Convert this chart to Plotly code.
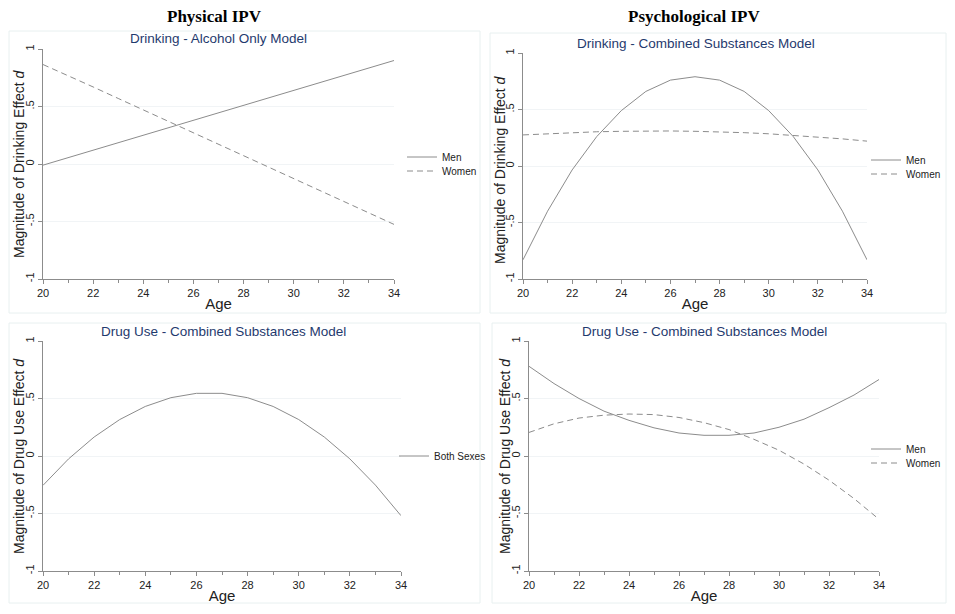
import plotly.graph_objects as go

ages = list(range(20, 35))

# Physical IPV - Drinking - Alcohol Only Model
phys_drink_men = [-0.01, 0.055, 0.12, 0.18, 0.25, 0.31, 0.38, 0.44, 0.51, 0.57, 0.64, 0.70, 0.77, 0.83, 0.90]
phys_drink_women = [0.865, 0.77, 0.67, 0.57, 0.47, 0.37, 0.27, 0.17, 0.07, -0.03, -0.13, -0.23, -0.33, -0.43, -0.525]

# Psychological IPV - Drinking - Combined Substances Model
psy_drink_men = [-0.83, -0.40, -0.035, 0.26, 0.49, 0.66, 0.76, 0.79, 0.76, 0.66, 0.49, 0.26, -0.035, -0.40, -0.83]
psy_drink_women = [0.275, 0.285, 0.295, 0.303, 0.307, 0.31, 0.31, 0.307, 0.302, 0.295, 0.285, 0.272, 0.258, 0.24, 0.22]

# Physical IPV - Drug Use - Combined Substances Model
phys_drug_both = [-0.255, -0.025, 0.165, 0.317, 0.431, 0.507, 0.545, 0.545, 0.507, 0.431, 0.317, 0.165, -0.025, -0.253, -0.519]

# Psychological IPV - Drug Use - Combined Substances Model
psy_drug_men = [0.78, 0.63, 0.50, 0.39, 0.31, 0.245, 0.20, 0.18, 0.18, 0.20, 0.25, 0.32, 0.42, 0.53, 0.665]
psy_drug_women = [0.205, 0.28, 0.33, 0.355, 0.365, 0.36, 0.335, 0.29, 0.23, 0.145, 0.05, -0.07, -0.21, -0.37, -0.55]

y_tickvals = [-1, -0.5, 0, 0.5, 1]
y_ticktext = ["-1", "-.5", "0", ".5", "1"]
x_tickvals = [20, 22, 24, 26, 28, 30, 32, 34]
x_ticktext = ["20", "22", "24", "26", "28", "30", "32", "34"]

# The page body keeps its default 8px margin; the figure fills the rest exactly.
PAGE_W, PAGE_H, BODY_M = 955, 614, 8
W, H = PAGE_W - 2 * BODY_M, PAGE_H - 2 * BODY_M

def px(x):
    return (x - BODY_M) / W
def py(y):
    return 1 - (y - BODY_M) / H

LINE = "#8c8c8c"
FONT = "Liberation Sans, Arial, sans-serif"
TITLE_BLUE = "#1f3a6e"

fig = go.Figure()

panels = [
    dict(ax="", dx=(43, 394), dy=(49, 279),
         series=[("Men", phys_drink_men, "solid", 157), ("Women", phys_drink_women, "dash", 171)],
         ytitle="Magnitude of Drinking Effect <i>d</i>", ytitle_xy=(19, 164),
         title="Drinking - Alcohol Only Model", title_xy=(218, 39), legx=402),
    dict(ax="2", dx=(523, 867), dy=(53, 279),
         series=[("Men", psy_drink_men, "solid", 160), ("Women", psy_drink_women, "dash", 174)],
         ytitle="Magnitude of Drinking Effect <i>d</i>", ytitle_xy=(500, 170),
         title="Drinking - Combined Substances Model", title_xy=(696, 44), legx=866),
    dict(ax="3", dx=(43, 401), dy=(341, 571),
         series=[("Both Sexes", phys_drug_both, "solid", 456)],
         ytitle="Magnitude of Drug Use Effect <i>d</i>", ytitle_xy=(19, 456),
         title="Drug Use - Combined Substances Model", title_xy=(223, 331), legx=394),
    dict(ax="4", dx=(529, 879), dy=(341, 571),
         series=[("Men", psy_drug_men, "solid", 449), ("Women", psy_drug_women, "dash", 463)],
         ytitle="Magnitude of Drug Use Effect <i>d</i>", ytitle_xy=(505, 456),
         title="Drug Use - Combined Substances Model", title_xy=(704, 331), legx=866),
]

layout = dict(
    width=W, height=H, margin=dict(l=0, r=0, t=0, b=0),
    paper_bgcolor="white", plot_bgcolor="white", showlegend=True,
    font=dict(family=FONT, color="#222222", size=11),
    annotations=[], shapes=[],
)

# panel boxes
for (x0, y0, x1, y1) in [(9, 31, 480, 313), (490, 33, 946, 313), (9, 323, 480, 603), (492, 323, 946, 603)]:
    layout["shapes"].append(dict(type="rect", xref="paper", yref="paper",
                                 x0=px(x0), x1=px(x1), y0=py(y1), y1=py(y0),
                                 line=dict(color="#e8f0f0", width=1), fillcolor="rgba(0,0,0,0)", layer="below"))

leg_i = 0
for p in panels:
    ax = p["ax"]
    for name, vals, dash, ly in p["series"]:
        leg_i += 1
        leg_id = "legend" if leg_i == 1 else "legend%d" % leg_i
        fig.add_trace(go.Scatter(x=ages, y=vals, mode="lines", name=name, showlegend=True,
                                 line=dict(color=LINE, width=1, dash=("6px,4px" if dash == "dash" else "solid")),
                                 xaxis="x" + ax, yaxis="y" + ax, legend=leg_id))
        layout[leg_id] = dict(
            x=px(p["legx"]), y=py(ly), xanchor="left", yanchor="middle",
            bgcolor="rgba(0,0,0,0)", font=dict(size=10, family=FONT, color="#222222"),
            itemwidth=30, tracegroupgap=0, visible=True,
        )
    layout["xaxis" + ax] = dict(
        domain=[px(p["dx"][0]), px(p["dx"][1])], anchor="y" + ax, range=[20, 34],
        tickmode="array", tickvals=x_tickvals, ticktext=x_ticktext,
        ticks="outside", ticklen=4, tickcolor=LINE, tickwidth=1,
        minor=dict(tickvals=[21, 23, 25, 27, 29, 31, 33], ticks="outside", ticklen=3, tickcolor=LINE),
        showline=True, linecolor=LINE, linewidth=1, showgrid=False, zeroline=False,
        tickfont=dict(size=11, family=FONT, color="#222222"),
        title=dict(text="Age", font=dict(size=15, family=FONT, color="#222222"), standoff=0),
        automargin=False, fixedrange=True,
    )
    layout["yaxis" + ax] = dict(
        domain=[py(p["dy"][1]), py(p["dy"][0])], anchor="x" + ax, range=[-1, 1],
        tickmode="array", tickvals=y_tickvals, ticktext=y_ticktext, tickangle=-90,
        ticks="outside", ticklen=4, tickcolor=LINE, tickwidth=1,
        showline=True, linecolor=LINE, linewidth=1,
        showgrid=True, gridcolor="#f1f4f6", gridwidth=1, zeroline=False,
        tickfont=dict(size=11, family=FONT, color="#222222"),
        automargin=False, fixedrange=True,
    )
    layout["annotations"].append(dict(
        text=p["ytitle"], x=px(p["ytitle_xy"][0]), y=py(p["ytitle_xy"][1]),
        xref="paper", yref="paper", showarrow=False, xanchor="center", yanchor="middle",
        textangle=-90, font=dict(size=14, family=FONT, color="#222222")))
    layout["annotations"].append(dict(
        text=p["title"], x=px(p["title_xy"][0]), y=py(p["title_xy"][1]),
        xref="paper", yref="paper", showarrow=False, xanchor="center", yanchor="middle",
        font=dict(size=13.5, family=FONT, color=TITLE_BLUE)))

for text, x in [("Physical IPV", 214), ("Psychological IPV", 694)]:
    layout["annotations"].append(dict(
        text="<b>" + text + "</b>", x=px(x), y=py(17), xref="paper", yref="paper",
        showarrow=False, xanchor="center", yanchor="middle",
        font=dict(size=17, family="Liberation Serif, Times New Roman, serif", color="black")))

fig.update_layout(**layout)
fig.write_html("out.html", config={"displayModeBar": False})
